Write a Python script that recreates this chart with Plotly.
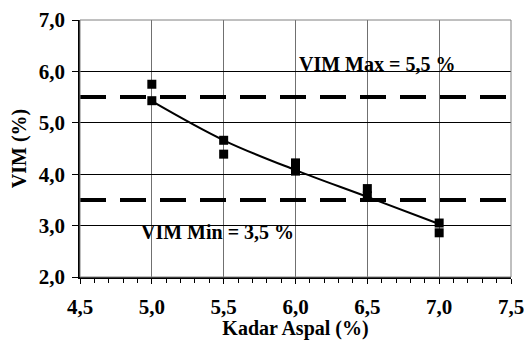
import plotly.graph_objects as go

# Data
kadar_points = [5.0, 5.0, 5.5, 5.5, 6.0, 6.0, 6.5, 6.5, 7.0, 7.0]
vim_points = [5.75, 5.43, 4.66, 4.39, 4.22, 4.06, 3.72, 3.58, 3.05, 2.86]

kadar_trend = [5.0, 5.5, 6.0, 6.5, 7.0]
vim_trend = [5.42, 4.66, 4.08, 3.56, 3.03]

vim_max = 5.5
vim_min = 3.5
x_limits = [4.5, 7.5]

FONT = "Liberation Serif"
FS_TICK = 21
FS = 20

fig = go.Figure()

for lvl in (vim_max, vim_min):
    fig.add_trace(go.Scatter(
        x=x_limits, y=[lvl, lvl], mode="lines",
        line=dict(color="black", width=4, dash="26px,14px"),
        hoverinfo="skip", showlegend=False))

fig.add_trace(go.Scatter(
    x=kadar_trend, y=vim_trend, mode="lines",
    line=dict(color="black", width=2, shape="spline", smoothing=1.0),
    showlegend=False))

fig.add_trace(go.Scatter(
    x=kadar_points, y=vim_points, mode="markers",
    marker=dict(symbol="square", size=9, color="black"),
    showlegend=False))

fig.add_annotation(x=6.01, y=6.14, text="<b>VIM Max = 5,5 %</b>", showarrow=False,
                   xanchor="left", yanchor="middle",
                   font=dict(family=FONT, size=FS, color="black"))
fig.add_annotation(x=4.91, y=2.88, text="<b>VIM Min = 3,5 %</b>", showarrow=False,
                   xanchor="left", yanchor="middle",
                   font=dict(family=FONT, size=FS, color="black"))

# page body has an 8px margin, so the figure is sized/offset to compensate
fig.update_layout(
    width=524, height=332,
    margin=dict(l=72, r=21, t=12, b=63),
    paper_bgcolor="white", plot_bgcolor="white",
    separators=", ",
    font=dict(family=FONT, size=FS, color="black"),
    shapes=[dict(type="rect", xref="paper", yref="paper", x0=0, y0=0, x1=1, y1=1,
                 line=dict(color="#808080", width=1), layer="above")],
)

fig.update_xaxes(
    range=x_limits, dtick=0.5, tick0=4.5, tickformat=".1f",
    showgrid=True, gridcolor="#707070", gridwidth=1,
    zeroline=False, showline=True, linecolor="black", linewidth=1.5,
    ticks="outside", ticklen=5, tickcolor="black",
    minor=dict(dtick=0.1, ticks="outside", ticklen=4, tickcolor="black", showgrid=False),
    tickfont=dict(family=FONT, size=FS_TICK),
    ticklabeloverflow="allow", ticklabelstandoff=5,
    title=dict(text="<b>Kadar Aspal (%)</b>", font=dict(family=FONT, size=FS), standoff=12),
    automargin=False,
    fixedrange=True,
)
fig.update_yaxes(
    range=[2, 7], dtick=1, tickformat=".1f",
    showgrid=True, gridcolor="black", gridwidth=1,
    zeroline=False, showline=True, linecolor="black", linewidth=1.5,
    ticks="outside", ticklen=6, tickcolor="black",
    tickfont=dict(family=FONT, size=FS_TICK),
    ticklabeloverflow="allow", ticklabelstandoff=3,
    title=dict(text="<b>VIM (%)</b>", font=dict(family=FONT, size=FS), standoff=12),
    automargin=False,
    fixedrange=True,
)

# bold tick labels
fig.update_xaxes(tickprefix="<b>", ticksuffix="</b>")
fig.update_yaxes(tickprefix="<b>", ticksuffix="</b>")

fig.write_html("out.html")
